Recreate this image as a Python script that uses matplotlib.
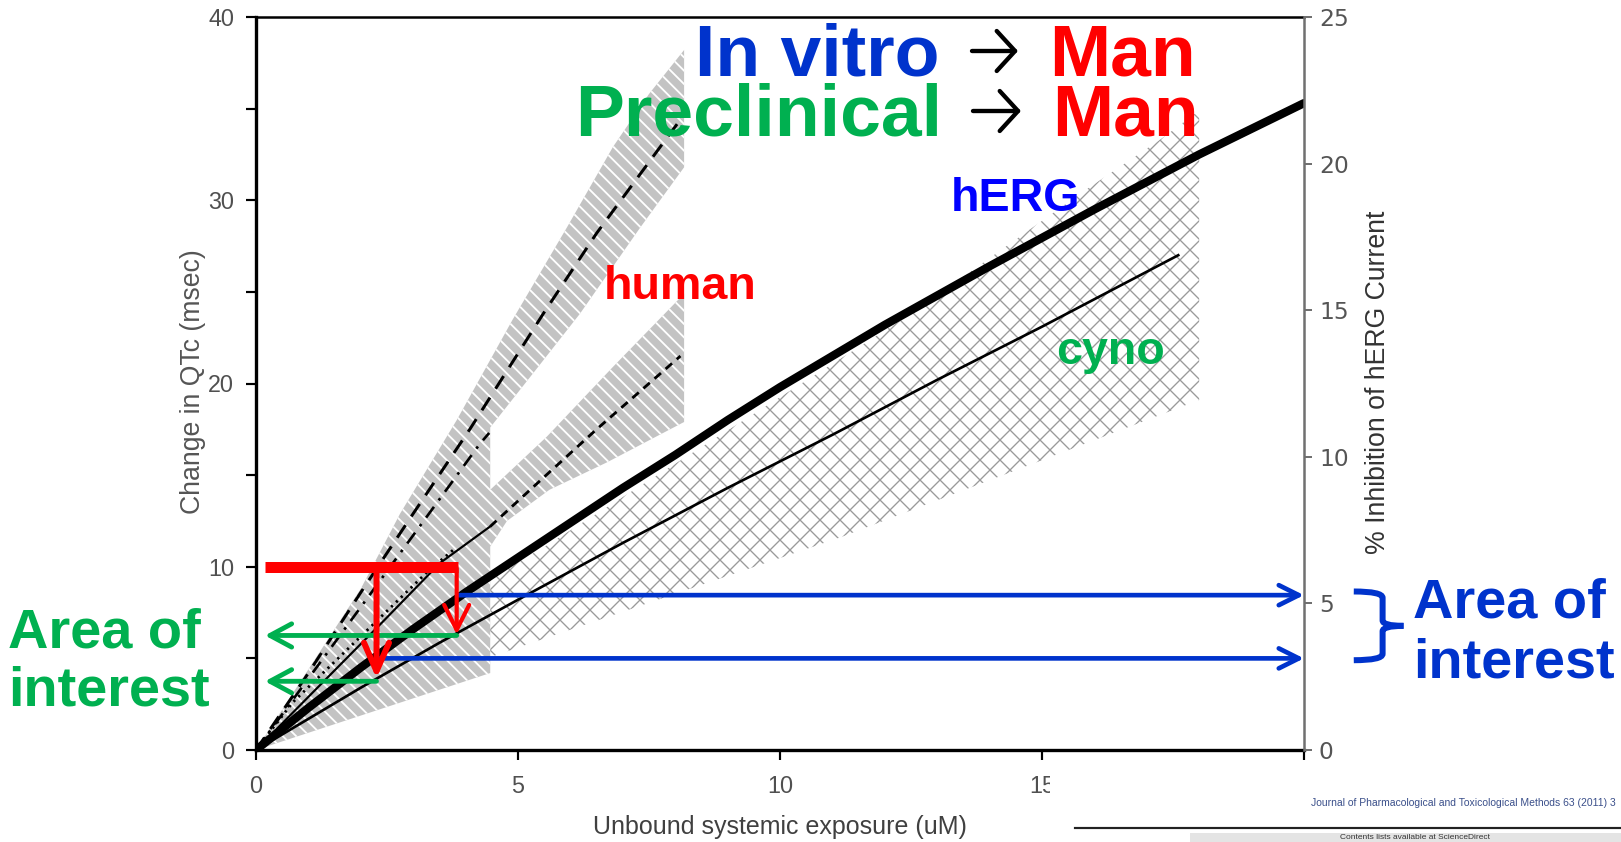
import numpy as np
import matplotlib
matplotlib.use("Agg")
import matplotlib.pyplot as plt
from matplotlib.patches import Polygon, Rectangle, PathPatch
from matplotlib.path import Path
from matplotlib.lines import Line2D

plt.rcParams['font.family'] = ['Liberation Sans', 'DejaVu Sans']

W, H, DPI = 1621, 842, 120

# ---- values (x = unbound exposure uM, y = dQTc msec) ----
herg_x = [0, 1, 2, 3, 4, 5, 6, 7, 8, 9, 10, 12, 14, 16, 18, 20]
herg_y = [0, 2.3, 4.5, 6.6, 8.6, 10.5, 12.4, 14.3, 16.1, 18.0, 19.8, 23.2, 26.4, 29.5, 32.5, 35.3]

cyno_x = [0, 2, 3.5, 5, 7, 9, 11, 13, 15, 17.6]
cyno_y = [0, 3.4, 5.85, 8.2, 11.3, 14.3, 17.2, 20.2, 23.1, 27.0]

human_hi_x = [0, 1, 2, 3, 4.08, 5.48, 6.5, 7.84, 8.1]
human_hi_y = [0, 4.2, 8.6, 12.9, 17.5, 23.8, 28.2, 33.4, 34.4]

human_dd_x = [0, 1, 2, 3.2, 4.27, 4.45]
human_dd_y = [0, 3.9, 7.8, 12.5, 16.7, 17.3]

human_dot_x = [0, 0.7, 2, 3.3, 3.8]
human_dot_y = [0, 2.6, 6.2, 9.8, 11.0]

human_mid_x = [0, 1, 2.42, 3.51, 4.47]
human_mid_y = [0, 2.9, 7.0, 10.2, 12.2]
human_mid_dash_x = [4.47, 5.5, 6.5, 7.58, 8.1]
human_mid_dash_y = [12.2, 14.9, 17.5, 20.2, 21.5]

# human (grey, striped) band outline
band_outer_x = [0, 1, 2, 2.75, 3.83, 4.9, 5.93, 6.81, 7.5, 8.17]
band_outer_y = [0, 4.4, 8.8, 12.9, 18.0, 23.5, 28.5, 32.9, 35.8, 38.2]
upper_low_x = [8.17, 7.33, 6.18, 5.3, 4.47]
upper_low_y = [31.8, 28.5, 23.8, 20.6, 17.6]
lower_top_x = [4.47, 5.55, 6.81, 8.17]
lower_top_y = [14.2, 17.1, 20.9, 24.9]
lower_low_x = [8.17, 6.7, 5.6, 4.79, 4.47]
lower_low_y = [17.9, 15.7, 14.2, 12.5, 11.1]
wedge_low_x = [4.47, 0]
wedge_low_y = [4.2, 0]

# cyno (cross-hatched) band outline
cyno_low_x = [4.47, 11.15, 18.0]
cyno_low_y = [5.07, 11.6, 19.1]
cyno_top_x = [18.0, 17.3, 15.8, 12.5, 9.2, 5.4, 4.47]
cyno_top_y = [34.9, 33.4, 30.5, 23.8, 17.8, 10.9, 9.5]

# annotation values
qtc_limit = 10
red_bar_x = [0.17, 3.86]
exposure_marks = [2.3, 3.83]
red_tips = [3.9, 6.3]
cyno_qtc = [3.75, 6.25]
herg_levels = [5.0, 8.45]
herg_starts = [2.35, 3.85]
left_end = 0.17

RED, GREEN, BLUE, BLUE2 = '#ff0000', '#00b050', '#0033cc', '#0000ff'


def px(x, y):
    return x / W, 1 - y / H


fig = plt.figure(figsize=(W / DPI, H / DPI), dpi=DPI)
ax = fig.add_axes([256 / W, 1 - 750 / H, 1048 / W, 733 / H])
ax.set_xlim(0, 20)
ax.set_ylim(0, 40)

# bands
hx = band_outer_x + upper_low_x + lower_top_x + lower_low_x + wedge_low_x
hy = band_outer_y + upper_low_y + lower_top_y + lower_low_y + wedge_low_y
plt.rcParams['hatch.linewidth'] = 1.1
gray = Polygon(np.column_stack([hx, hy]), closed=True, facecolor='#c3c3c3',
               edgecolor='white', linewidth=0, hatch='\\\\\\', zorder=1)
if hasattr(gray, 'set_hatch_linewidth'):
    gray.set_hatch_linewidth(1.1)
ax.add_patch(gray)

plt.rcParams['hatch.linewidth'] = 0.8
cx = cyno_low_x + cyno_top_x
cy = cyno_low_y + cyno_top_y
cross = Polygon(np.column_stack([cx, cy]), closed=True, facecolor='none',
                edgecolor='#9a9a9a', linewidth=0, hatch='xx', zorder=1)
if hasattr(cross, 'set_hatch_linewidth'):
    cross.set_hatch_linewidth(0.8)
ax.add_patch(cross)

# curves
ax.plot(human_hi_x, human_hi_y, color='k', lw=1.8, dashes=(5, 3.5), zorder=3)
ax.plot(human_dd_x, human_dd_y, color='k', lw=1.6, dashes=(5, 3, 1, 3), zorder=3)
ax.plot(human_dot_x, human_dot_y, color='k', lw=1.7, linestyle=(0, (0.8, 1.6)), zorder=3)
ax.plot(human_mid_x, human_mid_y, color='k', lw=1.3, zorder=3)
ax.plot(human_mid_dash_x, human_mid_dash_y, color='k', lw=1.7, dashes=(3, 2.2), zorder=3)
ax.plot(herg_x, herg_y, color='k', lw=5, solid_capstyle='round', zorder=3)
ax.plot(cyno_x, cyno_y, color='k', lw=1.6, zorder=3)

# arrows
for y0, x0 in zip(herg_levels, herg_starts):
    ax.annotate('', xy=(20, y0), xytext=(x0, y0),
                arrowprops=dict(arrowstyle='->,head_length=1.2,head_width=0.6',
                                color=BLUE, lw=2.8, shrinkA=0, shrinkB=0), zorder=4)
for y0, x0 in zip(cyno_qtc, exposure_marks):
    ax.annotate('', xy=(left_end, y0), xytext=(x0, y0),
                arrowprops=dict(arrowstyle='->,head_length=1.3,head_width=0.7',
                                color=GREEN, lw=2.9, shrinkA=0, shrinkB=0), zorder=4)
ax.plot(red_bar_x, [qtc_limit] * 2, color=RED, lw=6.6, solid_capstyle='butt', zorder=5)
for x0, tip, lw, hl in zip(exposure_marks, red_tips, [3.6, 2.5], [1.7, 1.5]):
    ax.annotate('', xy=(x0, tip), xytext=(x0, qtc_limit - 0.1),
                arrowprops=dict(arrowstyle=f'->,head_length={hl},head_width=0.75',
                                color=RED, lw=lw, shrinkA=0, shrinkB=0), zorder=5)

# brace on the right, two halves meeting at the middle tip
bx0, bx1, bx2 = 20.95, 21.5, 21.9
yt, yb = 8.65, 4.9
ym = (yt + yb) / 2
codes = [Path.MOVETO, Path.CURVE3, Path.CURVE3, Path.LINETO, Path.CURVE3, Path.CURVE3]
for ya, sgn in [(yt, -1), (yb, 1)]:
    verts = [(bx0, ya), (bx1, ya), (bx1, ya + sgn * 0.35), (bx1, ym - sgn * 0.3),
             (bx1, ym), (bx2, ym)]
    ax.add_patch(PathPatch(Path(verts, codes), facecolor='none', edgecolor=BLUE, lw=3.6,
                           clip_on=False, capstyle='butt', zorder=5))

# curve labels
ax.text(8.09, 24.6, 'human', color=RED, fontsize=28, fontweight='bold',
        ha='center', va='baseline', zorder=6)
ax.text(14.5, 29.4, 'hERG', color=BLUE2, fontsize=28, fontweight='bold',
        ha='center', va='baseline', zorder=6)
ax.text(16.3, 21.06, 'cyno', color=GREEN, fontsize=28, fontweight='bold',
        ha='center', va='baseline', zorder=6)

# axes styling
ax.set_xticks([0, 5, 10, 15, 20])
ax.set_yticks([0, 10, 20, 30, 40])
ax.set_yticks([5, 15, 25, 35], minor=True)
ax.tick_params(axis='both', which='both', direction='out', length=6, width=1.3,
               labelsize=14, labelcolor='#505050')
ax.tick_params(axis='y', pad=7)
ax.tick_params(axis='x', pad=9)
ax.spines['left'].set_linewidth(2.0)
ax.spines['bottom'].set_linewidth(2.0)
ax.spines['top'].set_linewidth(1.5)
ax.spines['right'].set_visible(False)

ax.set_xlabel('Unbound systemic exposure (uM)', fontsize=15, color='#404040')
ax.xaxis.label.set_va('center')
ax.xaxis.set_label_coords(0.5, -0.105)
ax.set_ylabel('Change in QTc (msec)', fontsize=16, color='#555555')
ax.yaxis.label.set_va('center')
ax.yaxis.set_label_coords(-0.060, 0.503)

ax2 = ax.twinx()
ax2.set_ylim(0, 25)
ax2.set_yticks([0, 5, 10, 15, 20, 25])
for s in ['left', 'top', 'bottom']:
    ax2.spines[s].set_visible(False)
ax2.spines['right'].set_color('#707070')
ax2.spines['right'].set_linewidth(1.5)
ax2.tick_params(axis='y', direction='out', length=5, width=1.2, color='#707070',
                labelsize=14, labelcolor='#555555', pad=4, labelfontfamily='DejaVu Sans')
ax2.set_ylabel('% Inhibition of hERG Current', fontsize=16, color='#333333')
ax2.yaxis.label.set_va('center')
ax2.yaxis.label.set_rotation(90)
ax2.yaxis.set_label_coords(1.0706, 0.502)

# headline
big = dict(fontsize=44, fontweight='bold', va='baseline', ha='left')
fig.text(*px(695, 75), 'In vitro', color=BLUE, **big)
fig.text(*px(1049, 75), 'Man', color=RED, **big)
fig.text(*px(575, 135), 'Preclinical', color=GREEN, **big)
fig.text(*px(1052, 135), 'Man', color=RED, **big)
for yy, x0, x1 in [(51, 972, 1018), (111, 973, 1021)]:
    ax.annotate('', xy=(x1, H - yy), xytext=(x0, H - yy), xycoords='figure pixels',
                textcoords='figure pixels',
                arrowprops=dict(arrowstyle='->,head_length=1.1,head_width=1.2',
                                color='k', lw=2.6, shrinkA=0, shrinkB=0))

mid = dict(fontsize=33.6, fontweight='bold', va='baseline', ha='left')
fig.text(*px(8, 648), 'Area of', color=GREEN, **mid)
fig.text(*px(8, 705), 'interest', color=GREEN, **mid)
fig.text(*px(1413, 618), 'Area of', color=BLUE, **mid)
fig.text(*px(1413, 677), 'interest', color=BLUE, **mid)

# pasted journal header in the corner
fig.add_artist(Rectangle(px(1050, H), 1 - 1050 / W, (H - 768) / H, transform=fig.transFigure,
                         facecolor='white', edgecolor='none', zorder=10))
fig.text(*px(1311, 806), 'Journal of Pharmacological and Toxicological Methods 63 (2011) 3',
         fontsize=6.2, color='#3a4f8a', va='baseline', ha='left', zorder=11)
fig.add_artist(Line2D([1075 / W, 1], [1 - 828 / H] * 2, transform=fig.transFigure,
                      color='#222222', lw=1.3, zorder=11))
fig.add_artist(Rectangle(px(1190, H), 1 - 1190 / W, (H - 833) / H, transform=fig.transFigure,
                         facecolor='#e4e4e4', edgecolor='none', zorder=11))
fig.text(*px(1340, 841), 'Contents lists available at ScienceDirect', fontsize=5,
         color='#333333', va='bottom', ha='left', zorder=12)

fig.savefig('out.png', dpi=DPI)
